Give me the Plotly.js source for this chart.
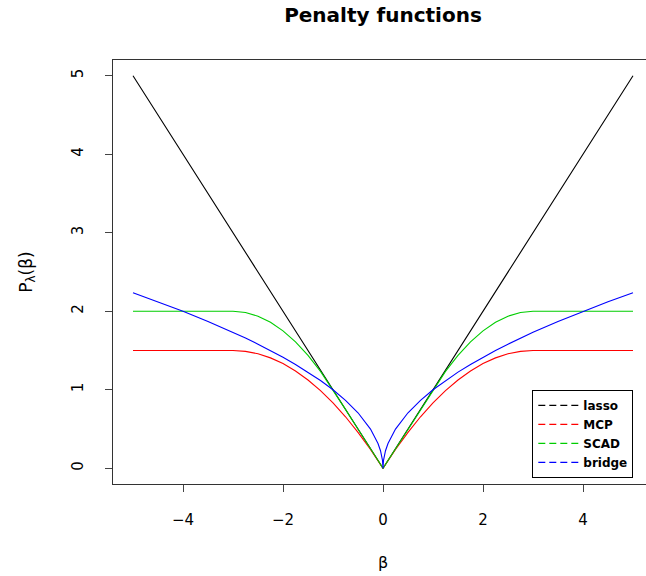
<!DOCTYPE html>
<html>
<head>
<meta charset="utf-8">
<script src="https://cdn.plot.ly/plotly-3.0.1.min.js"></script>
<style>html,body{margin:0;padding:0;background:#fff;overflow:hidden}</style>
</head>
<body>
<div id="chart"></div>
<script>
// beta grid
const beta = [-5,-4.5,-4,-3.5,-3,-2.75,-2.5,-2.25,-2,-1.75,-1.5,-1.25,-1,-0.75,-0.5,-0.25,-0.1,-0.05,-0.01,0,
              0.01,0.05,0.1,0.25,0.5,0.75,1,1.25,1.5,1.75,2,2.25,2.5,2.75,3,3.5,4,4.5,5];
const lasso = [5,4.5,4,3.5,3,2.75,2.5,2.25,2,1.75,1.5,1.25,1,0.75,0.5,0.25,0.1,0.05,0.01,0,
               0.01,0.05,0.1,0.25,0.5,0.75,1,1.25,1.5,1.75,2,2.25,2.5,2.75,3,3.5,4,4.5,5];
const mcp = [1.5,1.5,1.5,1.5,1.5,1.4896,1.4583,1.4063,1.3333,1.2396,1.125,0.9896,0.8333,0.6563,0.4583,0.2396,0.0983,0.0496,0.01,0,
             0.01,0.0496,0.0983,0.2396,0.4583,0.6563,0.8333,0.9896,1.125,1.2396,1.3333,1.4063,1.4583,1.4896,1.5,1.5,1.5,1.5,1.5];
const scad = [2,2,2,2,2,1.9844,1.9375,1.8594,1.75,1.6094,1.4375,1.2344,1,0.75,0.5,0.25,0.1,0.05,0.01,0,
              0.01,0.05,0.1,0.25,0.5,0.75,1,1.2344,1.4375,1.6094,1.75,1.8594,1.9375,1.9844,2,2,2,2,2];
const bridge = [2.2361,2.1213,2,1.8708,1.7321,1.6583,1.5811,1.5,1.4142,1.3229,1.2247,1.118,1,0.866,0.7071,0.5,0.3162,0.2236,0.1,0,
                0.1,0.2236,0.3162,0.5,0.7071,0.866,1,1.118,1.2247,1.3229,1.4142,1.5,1.5811,1.6583,1.7321,1.8708,2,2.1213,2.2361];
const names = ["lasso","MCP","SCAD","bridge"];
const colors = ["#000000","#FF0000","#00CD00","#0000FF"];
const ys = [lasso, mcp, scad, bridge];
const xTicks = [-4,-2,0,2,4];
const xTickText = ["\u22124","\u22122","0","2","4"];
const yTicks = [0,1,2,3,4,5];

const traces = [];
ys.forEach((y,i)=>{
  traces.push({x:beta, y:y, mode:'lines', line:{color:colors[i], width:1.1}, showlegend:false, hoverinfo:'skip'});
});
ys.forEach((y,i)=>{
  traces.push({x:[null], y:[null], mode:'lines', name:names[i], line:{color:colors[i], width:1.1, dash:'7px,4px'}, showlegend:true});
});

const font = "DejaVu Sans, Liberation Sans, Arial, sans-serif";
const layout = {
  width:655, height:576,
  margin:{l:113, r:2, t:60, b:92},
  paper_bgcolor:'#fff', plot_bgcolor:'#fff',
  font:{family:font, size:15, color:'#000'},
  title:{text:'<b>Penalty functions</b>', font:{family:font, size:20, color:'#000'},
         x:0.5, xref:'paper', xanchor:'center', y:1-15/576, yref:'container', yanchor:'middle'},
  xaxis:{range:[-5.4,5.4], tickvals:xTicks, ticktext:xTickText, ticks:'outside', ticklen:7, tickcolor:'#444',
         showgrid:false, zeroline:false, showline:true, mirror:true, linecolor:'#333', linewidth:1,
         ticklabelstandoff:15, tickfont:{size:15},
         title:{text:'\u03b2', font:{size:16}, standoff:28}},
  yaxis:{range:[-0.2,5.2], tickvals:yTicks, ticks:'outside', ticklen:7, tickcolor:'#444', tickangle:-90,
         showgrid:false, zeroline:false, showline:true, mirror:true, linecolor:'#333', linewidth:1,
         ticklabelstandoff:16, tickfont:{size:15},
         title:{text:'P<sub>\u03bb</sub>(\u03b2)', font:{size:17}, standoff:32}},
  legend:{x:0.7765, y:0.222, xanchor:'left', yanchor:'top', bgcolor:'#fff', bordercolor:'#000', borderwidth:1,
          font:{size:12, color:'#000', weight:'bold'}, tracegroupgap:0, itemwidth:40},
  showlegend:true
};
Plotly.newPlot('chart', traces, layout, {displayModeBar:false, staticPlot:true});
</script>
</body>
</html>
